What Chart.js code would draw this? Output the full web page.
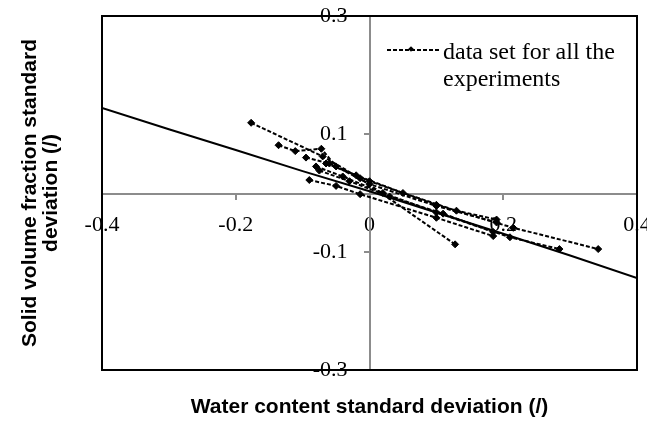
<!DOCTYPE html>
<html>
<head>
<meta charset="utf-8">
<script src="https://cdn.jsdelivr.net/npm/chart.js@4.4.1/dist/chart.umd.min.js"></script>
<style>
  html, body { margin: 0; padding: 0; background: #fff; }
  #wrap { position: relative; width: 647px; height: 424px; }
  #legend-line { position: absolute; left: 387px; top: 44px; }
  #legend-text {
    position: absolute; left: 443px; top: 38px;
    font: 24px "Liberation Serif", "Times New Roman", serif;
    line-height: 27px; color: #000; white-space: nowrap;
  }
</style>
</head>
<body>
<div id="wrap">
  <canvas id="chart" width="647" height="424"></canvas>
  <svg id="legend-line" width="54" height="12">
    <line x1="0" y1="6" x2="53" y2="6" stroke="#000" stroke-width="2" stroke-dasharray="4 2"/>
    <rect x="22" y="3" width="4" height="4" fill="#000" transform="rotate(45 24 5)"/>
  </svg>
  <div id="legend-text">data set for all the<br>experiments</div>
</div>
<script>
  // tick labels
  const xTickLabels = ["-0.4", "-0.2", "0", "0.2", "0.4"];
  const yTickLabels = ["-0.3", "-0.1", "0.1", "0.3"];

  // fitted relation (solid line)
  const fitWc = [-0.4, -0.3, -0.2, -0.1, 0, 0.1, 0.2, 0.3, 0.4];
  const fitPhi = [0.144, 0.108, 0.073, 0.037, 0.003, -0.033, -0.069, -0.106, -0.144];

  // experiments (dashed lines), water content sd vs solid fraction sd
  const run1Wc = [-0.177, -0.07, -0.014, 0.128];
  const run1Phi = [0.119, 0.062, 0.025, -0.087];
  const run2Wc = [-0.136, -0.111, -0.072, -0.05, 0.0, 0.1, 0.19];
  const run2Phi = [0.081, 0.071, 0.075, 0.045, 0.015, -0.022, -0.05];
  const run3Wc = [-0.095, -0.06, 0.0, 0.1, 0.215, 0.342];
  const run3Phi = [0.06, 0.05, 0.02, -0.02, -0.059, -0.095];
  const run4Wc = [-0.09, -0.05, -0.014, 0.1, 0.185];
  const run4Phi = [0.022, 0.012, -0.002, -0.042, -0.073];
  const run5Wc = [-0.08, -0.04, 0.02, 0.1, 0.21, 0.284];
  const run5Phi = [0.045, 0.028, 0.0, -0.033, -0.075, -0.095];
  const run6Wc = [-0.075, -0.03, 0.03, 0.11, 0.185];
  const run6Phi = [0.038, 0.02, -0.006, -0.035, -0.066];
  const run7Wc = [-0.065, -0.02, 0.05, 0.13, 0.19];
  const run7Phi = [0.05, 0.03, 0.0, -0.03, -0.045];

  const runs = [
    [run1Wc, run1Phi], [run2Wc, run2Phi], [run3Wc, run3Phi], [run4Wc, run4Phi],
    [run5Wc, run5Phi], [run6Wc, run6Phi], [run7Wc, run7Phi]
  ];

  const pts = (xs, ys) => xs.map((x, i) => ({ x, y: ys[i] }));

  const serif = '"Liberation Serif", "Times New Roman", serif';
  const sans = '"Liberation Sans", Arial, sans-serif';
  const axisGrey = "#8c8c8c";

  const datasets = [
    {
      label: "fit",
      data: pts(fitWc, fitPhi),
      borderColor: "#000",
      borderWidth: 2,
      pointRadius: 0,
      tension: 0
    },
    ...runs.map(([xs, ys]) => ({
      label: "data set for all the experiments",
      data: pts(xs, ys),
      borderColor: "#000",
      backgroundColor: "#000",
      borderWidth: 2,
      borderDash: [4, 2],
      pointStyle: "rectRot",
      pointRadius: 3.5,
      pointBorderWidth: 1,
      tension: 0
    }))
  ];

  const hiddenAxis = (axis, position, size, extra) => Object.assign({
    type: "linear",
    axis,
    position,
    ticks: { display: false },
    grid: { display: false },
    border: { display: true, color: "#000", width: 2 },
    afterFit: (s) => {
      if (axis === "x") s.height = size; else s.width = size;
    }
  }, extra || {});

  // centre axes must not push the plot box around
  const noPad = (s) => { s.paddingLeft = 0; s.paddingRight = 0; s.paddingTop = 0; s.paddingBottom = 0; };

  new Chart(document.getElementById("chart"), {
    type: "line",
    data: { datasets },
    options: {
      responsive: false,
      animation: false,
      devicePixelRatio: 1,
      layout: { padding: 0 },
      plugins: { legend: { display: false }, tooltip: { enabled: false } },
      scales: {
        x: {
          type: "linear",
          position: "center",
          min: -0.4,
          max: 0.4,
          ticks: {
            stepSize: 0.2,
            padding: 14,
            color: "#000",
            font: { family: serif, size: 22 },
            callback: (v, i) => xTickLabels[i]
          },
          grid: { drawOnChartArea: false, drawTicks: true, tickLength: 5, color: axisGrey, lineWidth: 2 },
          border: { color: axisGrey, width: 2 },
          afterFit: noPad
        },
        y: {
          type: "linear",
          position: "center",
          min: -0.3,
          max: 0.3,
          ticks: {
            stepSize: 0.2,
            padding: 17,
            color: "#000",
            font: { family: serif, size: 22 },
            callback: (v, i) => yTickLabels[i]
          },
          grid: { drawOnChartArea: false, drawTicks: true, tickLength: 5, color: axisGrey, lineWidth: 2 },
          border: { color: axisGrey, width: 2 },
          afterFit: noPad
        },
        yTitle: hiddenAxis("y", "left", 102, {
          title: {
            display: true,
            text: ["Solid volume fraction standard", "deviation (/)"],
            color: "#000",
            font: { family: sans, weight: "bold", size: 21, lineHeight: 1 },
            padding: { top: 20, bottom: 0 }
          }
        }),
        xTitle: hiddenAxis("x", "bottom", 54, {
          title: {
            display: true,
            text: "Water content standard deviation (/)",
            color: "#000",
            font: { family: sans, weight: "bold", size: 21, lineHeight: 1 },
            padding: { top: 0, bottom: 6 }
          }
        }),
        xTop: hiddenAxis("x", "top", 16),
        yRight: hiddenAxis("y", "right", 10)
      }
    }
  });
</script>
</body>
</html>
